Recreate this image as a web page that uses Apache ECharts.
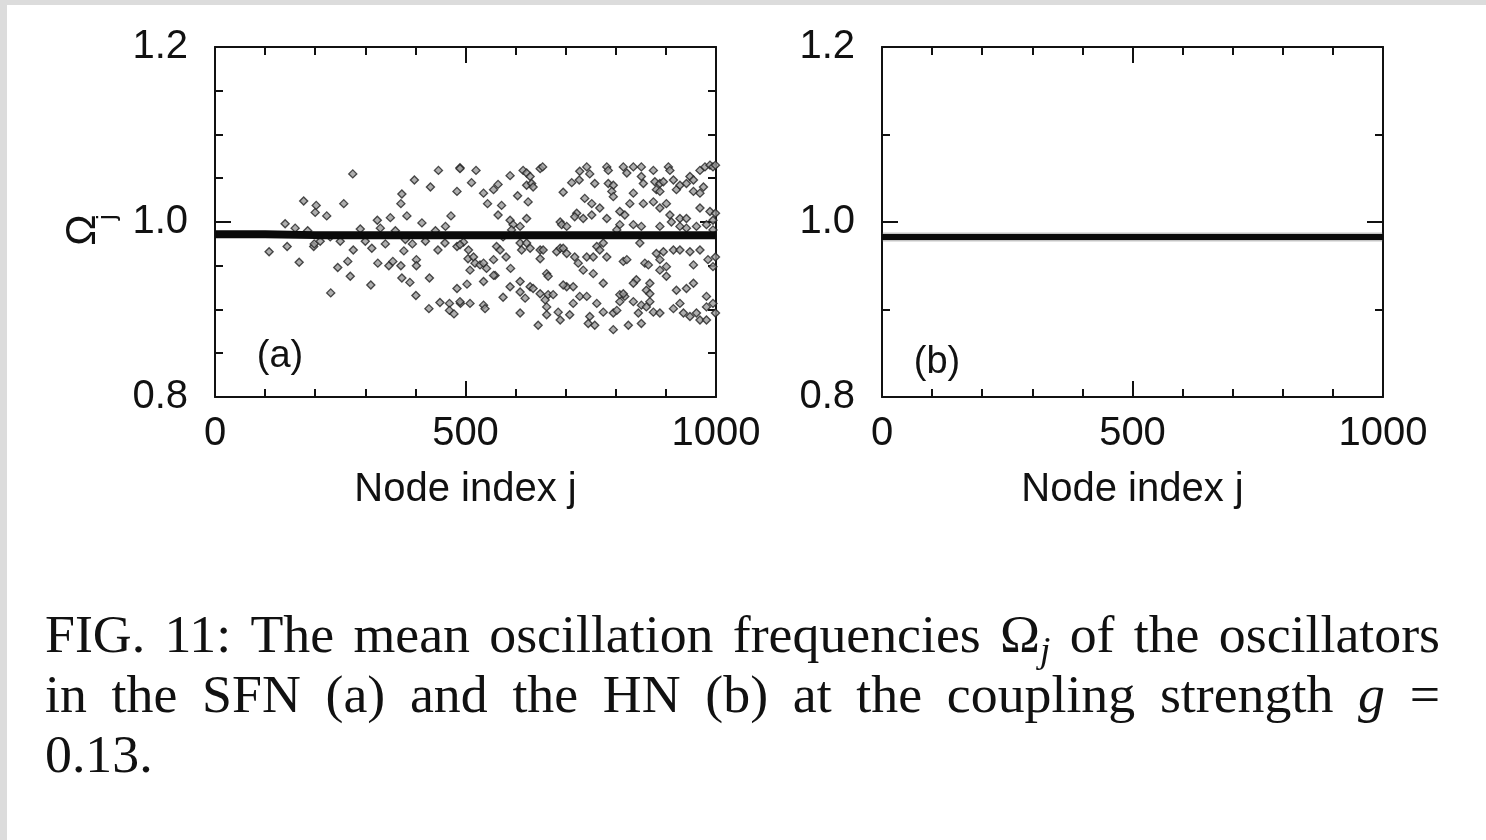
<!DOCTYPE html>
<html><head><meta charset="utf-8">
<script src="https://cdn.jsdelivr.net/npm/echarts@6/dist/echarts.min.js"></script>
<style>html,body{margin:0;padding:0;background:#fff}#c{width:1486px;height:840px}</style>
</head><body><div id="c"></div>
<script>
// ---- data ----
const nodeRange = [0, 1000];
const freqRange = [0.8, 1.2];
const xAxisTitle = 'Node index j';
const panelLabels = ['(a)', '(b)'];
// locked (synchronized) oscillators, panel (a) SFN
const lockedA = [[0,0.986],[100,0.986],[200,0.985],[300,0.985],[400,0.985],[500,0.985],[600,0.985],[700,0.985],[800,0.985],[900,0.985],[1000,0.985]];
// panel (b) HN: all nodes locked
const lockedB = [[0,0.983],[100,0.983],[200,0.983],[300,0.983],[400,0.983],[500,0.983],[600,0.983],[700,0.983],[800,0.983],[900,0.983],[1000,0.983]];
// drifting oscillators, panel (a)
const scatterA = [
[108,0.966],[140,0.998],[144,0.972],[160,0.993],[168,0.954],[177,1.024],[185,0.990],[197,0.972],[198,0.975],[200,1.011],[202,1.019],
[210,0.978],[223,1.007],[230,0.983],[231,0.919],[245,0.948],[250,0.978],[257,1.021],[265,0.955],[270,0.938],[275,1.055],[276,0.968],
[290,0.992],[300,0.978],[311,0.928],[313,0.970],[324,1.002],[325,0.953],[330,0.993],[340,0.975],[347,0.950],[350,1.005],[355,0.955],
[360,0.990],[371,1.021],[371,0.950],[373,1.032],[373,0.936],[377,0.967],[380,0.980],[383,1.007],[389,0.931],[394,0.975],[398,1.048],
[401,0.916],[402,0.957],[402,0.950],[413,0.999],[420,0.978],[427,0.901],[428,0.936],[430,1.040],[440,0.990],[445,0.968],[446,1.059],
[449,0.908],[459,0.976],[460,0.995],[468,0.907],[468,0.899],[471,1.007],[477,0.895],[483,1.035],[483,0.924],[483,0.972],[489,1.062],
[490,0.907],[503,0.929],[505,0.958],
[489,1.061],[521,1.059],[512,1.045],[536,1.033],[544,1.021],[556,1.037],[565,1.043],[572,1.019],[589,1.053],[604,1.030],[615,1.059],
[622,1.056],[629,1.052],[622,1.042],[632,1.044],[635,1.040],[625,1.023],[649,1.061],[654,1.063],[695,1.034],[712,1.045],[727,1.048],
[728,1.058],[742,1.063],[748,1.055],[758,1.044],[738,1.027],[752,1.021],[768,1.016],[782,1.063],[785,1.059],[785,1.044],[795,1.042],
[792,1.035],[795,1.029],[815,1.063],[822,1.056],[835,1.063],[851,1.063],[851,1.052],[855,1.044],[875,1.059],[878,1.046],[888,1.044],
[895,1.046],[905,1.063],[908,1.059],[915,1.048],[921,1.037],[928,1.042],[941,1.044],[948,1.052],[955,1.048],[968,1.059],[978,1.063],
[988,1.065],[994,1.063],[999,1.065],[955,1.035],[968,1.033],[975,1.040],[881,1.037],[888,1.035],[835,1.033],[828,1.021],[855,1.021],
[875,1.023],[888,1.016],[901,1.021],[908,1.008],[928,1.004],[941,1.004],[968,1.016],[988,1.012],[999,1.010],[994,1.002],[722,1.010],
[718,1.006],[735,1.004],[752,1.008],[782,1.004],[808,1.012],[818,1.008],[808,0.997],[565,1.008],[622,1.004],[589,1.002],[595,0.997],
[609,0.995],[592,0.991],[689,1.000],[692,0.997],[702,0.995],[802,0.991],[835,0.997],[851,0.995],[888,0.995],[911,1.000],[928,0.995],
[941,0.993],[961,0.995],[981,0.997],[994,0.991],
[496,0.977],[489,0.974],[506,0.968],[516,0.960],[509,0.945],[519,0.953],[529,0.951],[536,0.953],[542,0.947],[556,0.957],[559,0.939],
[562,0.972],[569,0.968],[575,0.983],[581,0.960],[590,0.947],[609,0.976],[612,0.968],[622,0.976],[629,0.970],[649,0.958],[649,0.968],
[655,0.968],[662,0.941],[665,0.938],[682,0.966],[689,0.970],[695,0.970],[702,0.964],[718,0.960],[725,0.953],[735,0.945],[742,0.960],
[755,0.960],[762,0.972],[768,0.968],[775,0.976],[755,0.941],[782,0.960],[815,0.955],[822,0.957],[848,0.976],[858,0.953],[865,0.951],
[881,0.964],[888,0.957],[895,0.966],[901,0.949],[901,0.938],[888,0.945],[915,0.968],[928,0.968],[948,0.966],[955,0.951],[968,0.968],
[984,0.957],[994,0.949],[999,0.960],
[489,0.909],[509,0.907],[536,0.905],[539,0.901],[536,0.932],[556,0.939],[575,0.914],[589,0.926],[609,0.932],[609,0.920],[619,0.913],
[629,0.926],[635,0.924],[649,0.918],[659,0.911],[665,0.917],[675,0.917],[662,0.903],[609,0.896],[645,0.882],[662,0.894],[685,0.897],
[689,0.888],[708,0.894],[715,0.907],[702,0.926],[695,0.928],[715,0.926],[728,0.915],[742,0.915],[762,0.907],[775,0.897],[795,0.896],
[802,0.899],[808,0.909],[818,0.915],[808,0.917],[835,0.909],[845,0.896],[851,0.905],[861,0.903],[868,0.909],[875,0.897],[888,0.896],
[861,0.922],[868,0.930],[841,0.934],[835,0.930],[815,0.918],[775,0.930],[748,0.892],[745,0.884],[758,0.882],[795,0.877],[825,0.882],
[851,0.884],[868,0.918],[915,0.901],[928,0.907],[935,0.896],[948,0.892],[961,0.896],[968,0.888],[981,0.888],[921,0.922],[941,0.924],
[955,0.930],[981,0.915],[994,0.907],[999,0.896],[981,0.903]
];
const yAxisTitle = ['Ω', 'j'];
const captionLines = [
  ['FIG.', '11:', 'The', 'mean', 'oscillation', 'frequencies', [{t:'Ω'},{t:'j',sub:true}], 'of', 'the', 'oscillators'],
  ['in', 'the', 'SFN', '(a)', 'and', 'the', 'HN', '(b)', 'at', 'the', 'coupling', 'strength', [{t:'g',it:true}], '='],
  ['0.13.']
];

// ---- chart ----
const chart = echarts.init(document.getElementById('c'));
const SANS = '"Liberation Sans", Arial, sans-serif';
const AX = '#111';
const grids = [
  {left: 215, top: 47, width: 501, height: 350},
  {left: 882, top: 47, width: 501, height: 350}
];
function xAx(g, pos, labels) {
  return {type:'value', gridIndex:g, position:pos, min:nodeRange[0], max:nodeRange[1], interval:500,
    axisLine:{show:true, onZero:false, lineStyle:{color:AX, width:2}},
    axisTick:{show:true, inside:true, length:16, lineStyle:{color:AX, width:2}},
    minorTick:{show:true, splitNumber:5, length:8, lineStyle:{color:AX, width:2}},
    splitLine:{show:false}, minorSplitLine:{show:false},
    axisLabel:{show:labels, color:'#111', fontSize:40, fontFamily:SANS, margin:17, formatter:v=>String(v)},
    name: labels ? xAxisTitle : '', nameLocation:'middle', nameGap:73,
    nameTextStyle:{color:'#111', fontSize:40, fontFamily:SANS}
  };
}
function yAx(g, pos, labels, minorSplit) {
  return {type:'value', gridIndex:g, position:pos, min:freqRange[0], max:freqRange[1], interval:0.2,
    axisLine:{show:true, onZero:false, lineStyle:{color:AX, width:2}},
    axisTick:{show:true, inside:true, length:16, lineStyle:{color:AX, width:2}},
    minorTick:{show:true, splitNumber:minorSplit, length:8, lineStyle:{color:AX, width:2}},
    splitLine:{show:false}, minorSplitLine:{show:false},
    axisLabel:{show:labels, color:'#111', fontSize:40, fontFamily:SANS, margin:27, formatter:v=>v.toFixed(1)}
  };
}

// caption layout (justified like the source)
const meas = document.createElement('canvas').getContext('2d');
const CAP_SIZE = 52, SUB_SIZE = 36, CAP_SX = 1.035;
const capFont = (it, size) => (it ? 'italic ' : '') + size + 'px "Liberation Serif", "Times New Roman", serif';
function pieceList(w) { return typeof w === 'string' ? [{t:w}] : w; }
function pieceWidth(p) { meas.font = capFont(p.it || p.sub, p.sub ? SUB_SIZE : CAP_SIZE); return meas.measureText(p.t).width * CAP_SX; }
const graphics = [
  {type:'rect', shape:{x:0, y:0, width:1486, height:5}, style:{fill:'#dcdcdc'}, silent:true},
  {type:'rect', shape:{x:0, y:0, width:7, height:840}, style:{fill:'#dcdcdc'}, silent:true}
];
const capLeft = 45, capRight = 1440, baselines = [653, 713, 773];
captionLines.forEach((words, li) => {
  const widths = words.map(w => pieceList(w).reduce((s, p) => s + pieceWidth(p), 0));
  const total = widths.reduce((a, b) => a + b, 0);
  const justify = li < captionLines.length - 1;
  const gap = justify ? (capRight - capLeft - total) / (words.length - 1) : CAP_SIZE * 0.3;
  let x = capLeft;
  words.forEach((w, wi) => {
    let px = x;
    pieceList(w).forEach(p => {
      const size = p.sub ? SUB_SIZE : CAP_SIZE;
      graphics.push({type:'text', x:px, y:baselines[li] + 11 + (p.sub ? 7 : 0), scaleX:CAP_SX, silent:true,
        style:{text:p.t, font:capFont(p.it || p.sub, size), fill:'#111',
          align:'left', verticalAlign:'bottom', textAlign:'left', textVerticalAlign:'bottom'}});
      px += pieceWidth(p);
    });
    x += widths[wi] + gap;
  });
});
// y-axis title of panel (a), rotated
graphics.push({type:'text', x:83, y:230, rotation:Math.PI/2, silent:true,
  style:{text:yAxisTitle[0], font:'42px ' + SANS, fill:'#111', align:'center', verticalAlign:'middle', textAlign:'center', textVerticalAlign:'middle'}});
graphics.push({type:'text', x:108, y:217, rotation:Math.PI/2, silent:true,
  style:{text:yAxisTitle[1], font:'26px ' + SANS, fill:'#111', align:'center', verticalAlign:'middle', textAlign:'center', textVerticalAlign:'middle'}});
// panel labels
graphics.push({type:'text', x:280, y:357, silent:true,
  style:{text:panelLabels[0], font:'38px ' + SANS, fill:'#111', align:'center', verticalAlign:'middle', textAlign:'center', textVerticalAlign:'middle'}});
graphics.push({type:'text', x:937, y:363, silent:true,
  style:{text:panelLabels[1], font:'38px ' + SANS, fill:'#111', align:'center', verticalAlign:'middle', textAlign:'center', textVerticalAlign:'middle'}});

chart.setOption({
  animation:false,
  backgroundColor:'#ffffff',
  grid: grids,
  xAxis: [xAx(0,'bottom',true), xAx(0,'top',false), xAx(1,'bottom',true), xAx(1,'top',false)],
  yAxis: [yAx(0,'left',true,4), yAx(0,'right',false,4), yAx(1,'left',true,2), yAx(1,'right',false,2)],
  series: [
    {type:'line', xAxisIndex:0, yAxisIndex:0, data:lockedA, showSymbol:false, silent:true,
      lineStyle:{color:'#0a0a0a', width:8}, z:3},
    {type:'scatter', xAxisIndex:0, yAxisIndex:0, data:scatterA, symbol:'diamond', symbolSize:8, silent:true,
      itemStyle:{color:'#9a9a9a', borderColor:'#222', borderWidth:1.4, opacity:0.8}, z:2},
    {type:'line', xAxisIndex:2, yAxisIndex:2, data:lockedB, showSymbol:false, silent:true,
      lineStyle:{color:'#555', width:9, opacity:0.35}, z:2},
    {type:'line', xAxisIndex:2, yAxisIndex:2, data:lockedB, showSymbol:false, silent:true,
      lineStyle:{color:'#0a0a0a', width:6}, z:3}
  ],
  graphic: graphics
});
</script></body></html>
